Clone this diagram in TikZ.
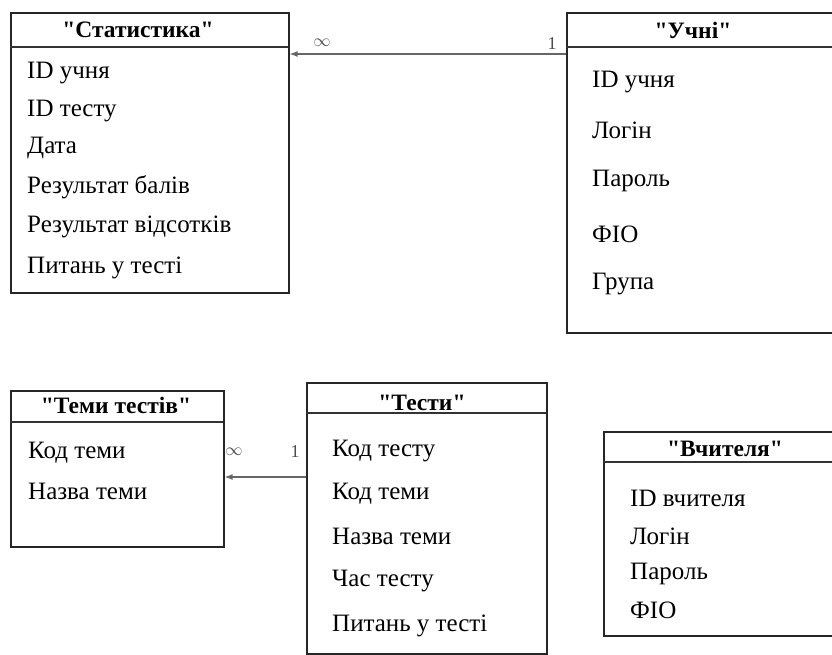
\documentclass[tikz,border=0pt]{standalone}
\usepackage{fontspec}
\setmainfont{Liberation Serif}
\newfontfamily\plainserif{Liberation Serif}
\usetikzlibrary{arrows.meta}
\tikzset{
  tbl/.style={draw=black!85, line width=1.6pt, anchor=north west, inner sep=0pt, fill=white},
  sep/.style={draw=black!80, line width=1.2pt},
  ttl/.style={font=\plainserif\fontsize{23.5}{26}\selectfont\bfseries, text=black, inner sep=0pt},
  fld/.style={font=\plainserif\fontsize{25}{28}\selectfont, text=black, anchor=west, inner sep=0pt},
  rel/.style={draw=black!60, line width=1.3pt, -{Latex[length=8pt,width=6pt]}},
  card/.style={font=\plainserif\fontsize{18}{20}\selectfont, text=black!70, inner sep=0pt}
}
\begin{document}
\begin{tikzpicture}[x=1pt,y=-1pt]
\useasboundingbox (0,0) rectangle (832,655);
\clip (0,0) rectangle (832,655);
\fill[white] (0,0) rectangle (832,655);

% Статистика
\node[tbl, minimum width=278pt, minimum height=280pt] (stat) at (10,12) {};
\draw[sep] (10,47) -- (288,47);
\node[ttl] (statT) at (138,30) {"Статистика"};
\node[fld] (s1) at (27,73) {ID учня};
\node[fld] (s2) at (27,111) {ID тесту};
\node[fld] (s3) at (27,148) {Дата};
\node[fld] (s4) at (27,187) {Результат балів};
\node[fld] (s5) at (27,227) {Результат відсотків};
\node[fld] (s6) at (27,268) {Питань у тесті};

% Учні
\node[tbl, minimum width=274pt, minimum height=320pt] (uch) at (566,12) {};
\draw[sep] (566,47) -- (840,47);
\node[ttl] (uchT) at (693,30) {"Учні"};
\node[fld] (u1) at (592,82) {ID учня};
\node[fld] (u2) at (592,130) {Логін};
\node[fld] (u3) at (592,181) {Пароль};
\node[fld] (u4) at (592,234) {ФІО};
\node[fld] (u5) at (592,284) {Група};

% Теми тестів
\node[tbl, minimum width=213pt, minimum height=156pt] (tem) at (10,390) {};
\draw[sep] (10,422) -- (223,422);
\node[ttl] (temT) at (116,405) {"Теми тестів"};
\node[fld] (t1) at (28,453) {Код теми};
\node[fld] (t2) at (28,491) {Назва теми};

% Тести
\node[tbl, minimum width=240pt, minimum height=271pt] (tes) at (306,382) {};
\draw[sep] (306,413) -- (546,413);
\node[ttl] (tesT) at (422,403) {"Тести"};
\node[fld] (e1) at (332,451) {Код тесту};
\node[fld] (e2) at (332,494) {Код теми};
\node[fld] (e3) at (332,536) {Назва теми};
\node[fld] (e4) at (332,581) {Час тесту};
\node[fld] (e5) at (332,626) {Питань у тесті};

% Вчителя
\node[tbl, minimum width=237pt, minimum height=204pt] (vch) at (603,431) {};
\draw[sep] (603,462) -- (840,462);
\node[ttl] (vchT) at (725,449) {"Вчителя"};
\node[fld] (v1) at (630,498) {ID вчителя};
\node[fld] (v2) at (630,536) {Логін};
\node[fld] (v3) at (630,574) {Пароль};
\node[fld] (v4) at (630,610) {ФІО};

% relations
\coordinate (a1) at (uch.west |- 0,54);
\coordinate (a2) at (stat.east |- 0,54);
\draw[rel] (a1) -- (a2);
\node[card] (inf1) at (322,43) {$\infty$};
\node[card] (one1) at (552,44) {1};

\coordinate (b1) at (tes.west |- 0,477);
\coordinate (b2) at (tem.east |- 0,477);
\draw[rel] (b1) -- (b2);
\node[card] (inf2) at (234,452) {$\infty$};
\node[card] (one2) at (295,452) {1};
\end{tikzpicture}
\end{document}
